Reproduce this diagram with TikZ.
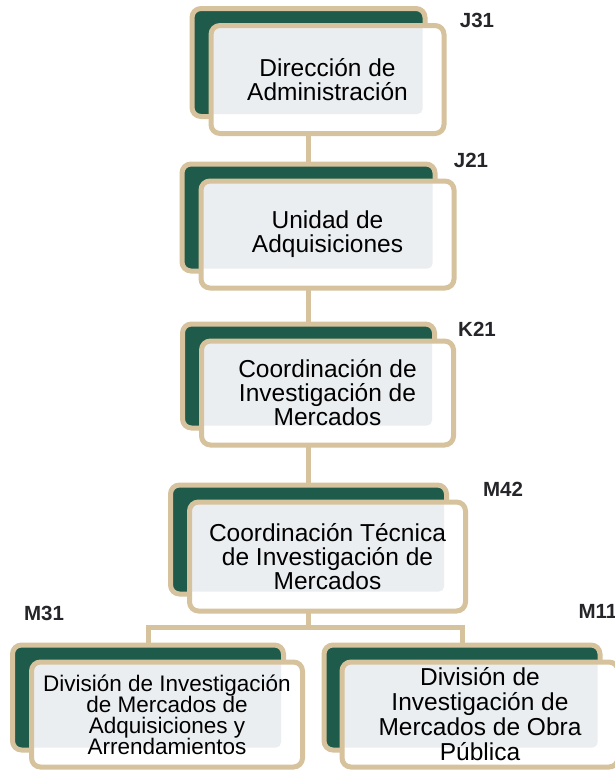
\documentclass[tikz,border=0pt]{standalone}
\usepackage{fontspec}
\setmainfont{Liberation Sans}
\usetikzlibrary{positioning,backgrounds}
\definecolor{tanline}{RGB}{214,194,156}
\definecolor{pine}{RGB}{31,91,75}
\definecolor{paper}{RGB}{235,238,241}
\definecolor{codegray}{RGB}{38,38,42}
\begin{document}
\begin{tikzpicture}[
  x=1pt, y=-1pt,
  back/.style={draw=tanline, line width=5pt, fill=pine, rounded corners=9pt, inner sep=0pt},
  front/.style={draw=tanline, line width=5pt, fill=white, rounded corners=9pt, inner sep=0pt,
    align=center, font=\fontsize{24.5}{24}\selectfont,
    path picture={\fill[paper, rounded corners=5pt] ([xshift=5pt,yshift=-5pt]#1.north west)
      rectangle ([xshift=-5pt,yshift=5pt]#1.south east);}},
  code/.style={font=\bfseries\fontsize{20.5}{20.5}\selectfont, text=codegray},
  link/.style={draw=tanline, line width=5pt}
]
\useasboundingbox (0,0) rectangle (615,771);

% back plates
\node[back, minimum width=233pt, minimum height=108pt] (b1) at (308.5,62.5) {};
\node[back, minimum width=253pt, minimum height=107pt] (b2) [below of=b1, node distance=155pt] {};
\node[back, minimum width=252pt, minimum height=104pt] (b3) [below of=b2, node distance=158.5pt] {};
\node[back, minimum width=276pt, minimum height=109pt] (b4) [below of=b3, node distance=163.5pt] {};
\node[back, minimum width=271pt, minimum height=105pt] (b5) [below of=b4, node distance=158pt, xshift=-160.5pt] {};
\node[back, minimum width=276pt, minimum height=105pt] (b6) [right of=b5, node distance=314pt] {};

% front cards
\node[front=b1, minimum width=233pt, minimum height=108pt] (f1) at ([xshift=19pt,yshift=-17pt]b1.center)
  {Dirección de\\Administración};
\node[front=b2, minimum width=253pt, minimum height=107pt] (f2) at ([xshift=19pt,yshift=-17pt]b2.center)
  {Unidad de\\Adquisiciones};
\node[front=b3, minimum width=252pt, minimum height=104pt] (f3) at ([xshift=19pt,yshift=-17pt]b3.center)
  {Coordinación de\\Investigación de\\Mercados};
\node[front=b4, minimum width=276pt, minimum height=109pt] (f4) at ([xshift=19pt,yshift=-17pt]b4.center)
  {Coordinación Técnica\\de Investigación de\\Mercados};
\node[front=b5, minimum width=271pt, minimum height=105pt, font=\fontsize{22.5}{21}\selectfont] (f5)
  at ([xshift=19pt,yshift=-17pt]b5.center)
  {División de Investigación\\de Mercados de\\Adquisiciones y\\Arrendamientos};
\node[front=b6, minimum width=276pt, minimum height=105pt, font=\fontsize{24.5}{25}\selectfont] (f6)
  at ([xshift=18pt,yshift=-17pt]b6.center)
  {División de\\Investigación de\\Mercados de Obra\\Pública};

% position codes
\node[code] (c1) at (477,20) {J31};
\node[code] (c2) at (471,160) {J21};
\node[code] (c3) at (477,329) {K21};
\node[code] (c4) at (503,489) {M42};
\node[code] (c5) at (44,613) {M31};
\node[code] (c6) at (598,611) {M11};

\begin{scope}[on background layer]
\coordinate (fork) at (b4.center |- 0,627);
\draw[link] (b1.center) -- (b2.center) -- (b3.center) -- (b4.center) -- (fork);
\draw[link] (b5.center) |- (fork) -| (b6.center);
\end{scope}
\end{tikzpicture}
\end{document}
